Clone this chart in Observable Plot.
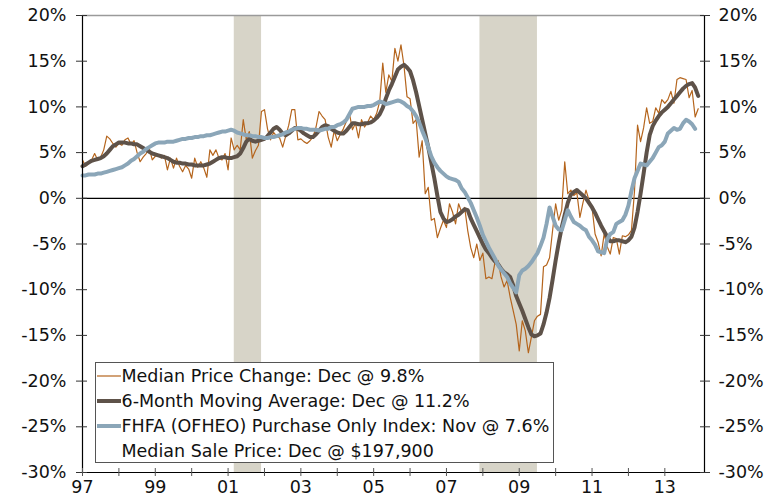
<!DOCTYPE html>
<html><head><meta charset="utf-8">
<script src="https://cdn.jsdelivr.net/npm/d3@7"></script>
<script src="https://cdn.jsdelivr.net/npm/@observablehq/plot@0.6"></script>
<style>
html,body{margin:0;padding:0;background:#fff;}
#chart{position:relative;width:783px;height:501px;overflow:hidden;}
</style></head><body><div id="chart"></div>
<script>
// Monthly series, Jan 1997 onward (percent, year-over-year)
const startYear = 1997;
const medianChange = [
  4.2, 3.5, 3.8, 4.2, 4.9, 4.2, 4.5, 5.3, 6.8, 6.5, 6.0, 5.6,
  6.0, 5.8, 6.4, 6.6, 5.9, 6.3, 5.0, 4.0, 4.5, 4.9, 5.5, 4.2,
  4.6, 4.7, 4.4, 4.7, 3.1, 4.4, 3.3, 4.4, 3.5, 2.9, 3.6, 3.2,
  2.2, 4.4, 3.4, 4.0, 3.3, 2.3, 5.3, 4.7, 5.3, 4.4, 4.2, 4.9,
  3.1, 6.6, 5.3, 5.8, 5.3, 8.6, 6.4, 7.3, 4.4, 5.2, 5.8, 9.5,
  9.7, 7.6, 6.4, 7.2, 6.8, 6.6, 5.6, 6.8, 8.0, 9.7, 9.7, 6.4,
  6.5, 6.2, 6.0, 6.3, 6.7, 7.8, 9.5, 9.0, 8.6, 6.7, 5.6, 7.4,
  6.3, 7.0, 7.6, 8.4, 9.3, 7.5, 8.2, 6.6, 8.6, 7.8, 8.3, 9.0,
  8.6, 9.3, 10.6, 14.8, 11.6, 13.5, 12.8, 16.4, 15.0, 16.8, 14.5, 11.1,
  10.9, 8.2, 8.6, 4.5, 6.3, 0.5, 1.2, -2.4, -2.2, -4.3, -3.3, -2.4,
  -3.2, -0.6, -1.5, -2.8, -0.6, -1.5, -1.0, -3.5, -5.4, -6.5, -5.0, -6.8,
  -6.0, -8.8, -8.6, -8.8, -7.0, -6.8, -8.6, -9.7, -9.0, -10.8, -12.3, -13.8,
  -16.7, -13.4, -14.5, -16.9, -15.2, -13.4, -12.9, -12.7, -7.5, -7.3, -6.5, -3.5,
  -0.6, -2.4, -1.3, 4.0, 0.5, 0.9, 0.3, 0.6, -2.1, -0.5, 0.9, -0.2,
  -1.0, -3.9, -4.8, -6.3, -3.9, -5.3, -6.1, -4.3, -4.4, -6.1, -4.1, -4.2,
  -4.0, -3.5, 0.8, 8.0, 6.2, 7.7, 9.9, 8.2, 8.4, 9.9, 9.3, 10.8,
  10.4, 10.8, 11.7, 10.4, 13.0, 13.2, 13.1, 13.0, 11.0, 11.8, 8.9, 9.8
];
const movingAverage = [
  3.5, 3.7, 3.9, 4.1, 4.2, 4.3, 4.4, 4.6, 4.9, 5.3, 5.7, 5.9,
  6.1, 6.1, 6.1, 6.0, 6.0, 5.9, 5.9, 5.7, 5.5, 5.3, 5.1, 4.9,
  4.8, 4.7, 4.6, 4.5, 4.4, 4.2, 4.0, 3.9, 3.9, 3.8, 3.8, 3.7,
  3.7, 3.6, 3.6, 3.6, 3.6, 3.7, 3.8, 4.0, 4.2, 4.4, 4.5, 4.5,
  4.4, 4.4, 4.5, 4.6, 4.9, 5.5, 6.2, 6.5, 6.3, 6.2, 6.3, 6.4,
  6.5, 6.8, 7.2, 7.6, 7.8, 7.5, 7.1, 6.9, 7.1, 7.4, 7.7, 7.6,
  7.4, 7.1, 6.9, 6.7, 6.7, 7.0, 7.4, 7.8, 8.0, 7.9, 7.6, 7.4,
  7.2, 7.1, 7.1, 7.4, 7.8, 8.2, 8.2, 8.1, 8.1, 8.2, 8.2, 8.3,
  8.5, 8.8, 9.2, 9.9, 10.9, 11.8, 12.5, 13.3, 14.1, 14.4, 14.6, 14.3,
  13.9, 12.9, 11.6, 10.1, 8.6, 7.1, 5.6, 3.9, 2.2, 0.3, -1.5, -2.2,
  -2.6, -2.5, -2.3, -2.0, -1.8, -1.5, -1.2, -1.3, -2.2, -2.9, -3.6, -4.3,
  -5.0, -5.6, -6.0, -6.5, -6.9, -7.2, -7.7, -8.1, -8.3, -8.6, -9.5, -10.7,
  -11.5, -12.3, -13.2, -14.1, -14.9, -15.1, -15.0, -14.8, -13.8, -12.5, -10.9, -8.9,
  -6.8, -4.9, -3.2, -1.8, -0.5, 0.4, 0.7, 0.9, 0.6, 0.3, 0.0, -0.5,
  -1.0, -1.6, -2.3, -3.0, -3.6, -4.2, -4.7, -4.7, -4.6, -4.6, -4.7, -4.8,
  -4.6, -4.2, -3.2, -1.5, 0.5, 2.7, 5.0, 6.9, 7.9, 8.5, 9.0, 9.4,
  9.7, 10.0, 10.4, 10.8, 11.2, 11.6, 12.0, 12.3, 12.5, 12.6, 12.1, 11.2
];
const fhfaIndex = [
  2.5, 2.5, 2.6, 2.6, 2.6, 2.7, 2.7, 2.8, 2.9, 3.0, 3.1, 3.2,
  3.3, 3.4, 3.6, 3.8, 4.1, 4.3, 4.6, 4.9, 5.1, 5.4, 5.6, 5.8,
  6.0, 6.1, 6.1, 6.1, 6.2, 6.2, 6.2, 6.3, 6.4, 6.5, 6.5, 6.6,
  6.6, 6.7, 6.7, 6.8, 6.8, 6.9, 6.9, 7.0, 7.1, 7.2, 7.3, 7.3,
  7.4, 7.5, 7.4, 7.2, 7.1, 7.0, 6.9, 6.9, 6.8, 6.8, 6.7, 6.7,
  6.6, 6.6, 6.7, 6.7, 6.8, 6.9, 7.0, 7.2, 7.3, 7.5, 7.6, 7.7,
  7.7, 7.6, 7.6, 7.5, 7.5, 7.5, 7.4, 7.5, 7.6, 7.6, 7.8, 7.8,
  8.0, 8.1, 8.3, 8.6, 9.2, 9.8, 9.9, 10.0, 10.0, 10.0, 10.1, 10.1,
  10.2, 10.4, 10.6, 10.5, 10.3, 10.4, 10.5, 10.6, 10.7, 10.6, 10.4, 10.1,
  9.9, 9.5, 9.0, 8.3, 7.4, 6.6, 5.6, 4.6, 3.9, 3.4, 3.0, 2.7,
  2.4, 2.2, 2.1, 2.0, 1.8, 1.1, 0.7, 0.1, -0.5, -1.3, -2.1, -3.0,
  -4.0, -4.7, -5.4, -6.0, -6.6, -7.3, -7.8, -8.2, -8.6, -9.3, -9.8, -10.3,
  -8.4, -7.9, -7.7, -7.4, -7.0, -6.5, -6.0, -5.2, -4.3, -2.8, -1.0, -2.0,
  -3.0, -3.4, -3.5, -2.4, -1.3, -2.0, -2.6, -2.8, -3.0, -3.3, -3.5, -4.2,
  -4.6, -5.1, -5.8, -5.9, -6.0, -4.5, -3.9, -3.7, -2.8, -2.6, -2.4, -1.8,
  -0.8, 0.8, 2.2, 3.0, 3.8, 3.7, 3.6, 4.0, 4.4, 5.0, 5.6, 5.8,
  6.2, 7.1, 7.4, 7.7, 7.5, 7.6, 8.2, 8.6, 8.4, 8.1, 7.6
];
const recessions = [
  {start: 2001.17, end: 2001.92},
  {start: 2007.92, end: 2009.5}
];
const yTicks = [-30, -25, -20, -15, -10, -5, 0, 5, 10, 15, 20];
const xTickYears = [1997, 1998, 1999, 2000, 2001, 2002, 2003, 2004, 2005, 2006, 2007, 2008, 2009, 2010, 2011, 2012, 2013];
const xDomain = [1997, 2014.09];
const legendItems = [
  {label: "Median Price Change: Dec @ 9.8%", color: "#b5651d", width: 1.2},
  {label: "6-Month Moving Average: Dec @ 11.2%", color: "#5e5249", width: 4},
  {label: "FHFA (OFHEO) Purchase Only Index: Nov @ 7.6%", color: "#8ba6b8", width: 4},
  {label: "Median Sale Price: Dec @ $197,900", color: null, width: 0}
];

const toSeries = arr => arr.map((v, i) => ({t: startYear + i / 12, v}));
const sMedian = toSeries(medianChange);
const sMA = toSeries(movingAverage);
const sFHFA = toSeries(fhfaIndex);

const FONT = "'DejaVu Sans', Verdana, sans-serif";
const FONT_SIZE = "17.5px";

const plot = Plot.plot({
  width: 783,
  height: 501,
  marginLeft: 82,
  marginRight: 79,
  marginTop: 15,
  marginBottom: 29,
  style: {fontFamily: FONT, fontSize: FONT_SIZE, color: "#111", background: "#fff"},
  x: {type: "linear", domain: xDomain},
  y: {domain: [-30, 20]},
  marks: [
    Plot.rect(recessions, {x1: "start", x2: "end", fill: "#d7d4c8"}),
    Plot.ruleY([20], {stroke: "#9a9a9a", strokeWidth: 1.5}),
    Plot.ruleY([0], {stroke: "#000", strokeWidth: 1.2}),
    Plot.line(sMedian, {x: "t", y: "v", stroke: legendItems[0].color, strokeWidth: legendItems[0].width}),
    Plot.line(sMA, {x: "t", y: "v", stroke: legendItems[1].color, strokeWidth: legendItems[1].width}),
    Plot.line(sFHFA, {x: "t", y: "v", stroke: legendItems[2].color, strokeWidth: legendItems[2].width}),
    Plot.ruleX([xDomain[0]], {stroke: "#000", strokeWidth: 1.2}),
    Plot.ruleX([xDomain[1]], {stroke: "#000", strokeWidth: 1.2}),
    Plot.ruleY([-30], {stroke: "#000", strokeWidth: 1.2}),
    Plot.axisY(yTicks, {anchor: "left", tickSize: 11, dx: 5, tickPadding: 10, stroke: "#333",
      tickFormat: d => `${d}%`, label: null}),
    Plot.axisY(yTicks, {anchor: "right", tickSize: 10, dx: -5, tickPadding: 9, stroke: "#333",
      tickFormat: d => `${d}%`, label: null}),
    Plot.axisX(xTickYears, {anchor: "bottom", tickSize: 8, dy: -4, tickPadding: 4, stroke: "#555",
      tickFormat: d => (d % 2 === 1 ? String(d).slice(2) : ""), label: null})
  ]
});

// Legend box
const svg = d3.select(plot);
const lg = svg.append("g").attr("font-family", FONT).attr("font-size", FONT_SIZE).attr("text-anchor", "start");
lg.append("rect").attr("x", 95.5).attr("y", 362.5).attr("width", 458).attr("height", 100)
  .attr("fill", "#fff").attr("stroke", "#555").attr("stroke-width", 1);
legendItems.forEach((d, i) => {
  const cy = 376 + i * 25;
  if (d.color) {
    lg.append("line").attr("x1", 97).attr("x2", 121).attr("y1", cy).attr("y2", cy)
      .attr("stroke", d.color).attr("stroke-width", d.width);
  }
  lg.append("text").attr("x", 121.5).attr("y", cy).attr("dy", "0.36em")
    .attr("text-anchor", "start").attr("fill", "#111").text(d.label);
});

document.getElementById("chart").appendChild(plot);
</script></body></html>
